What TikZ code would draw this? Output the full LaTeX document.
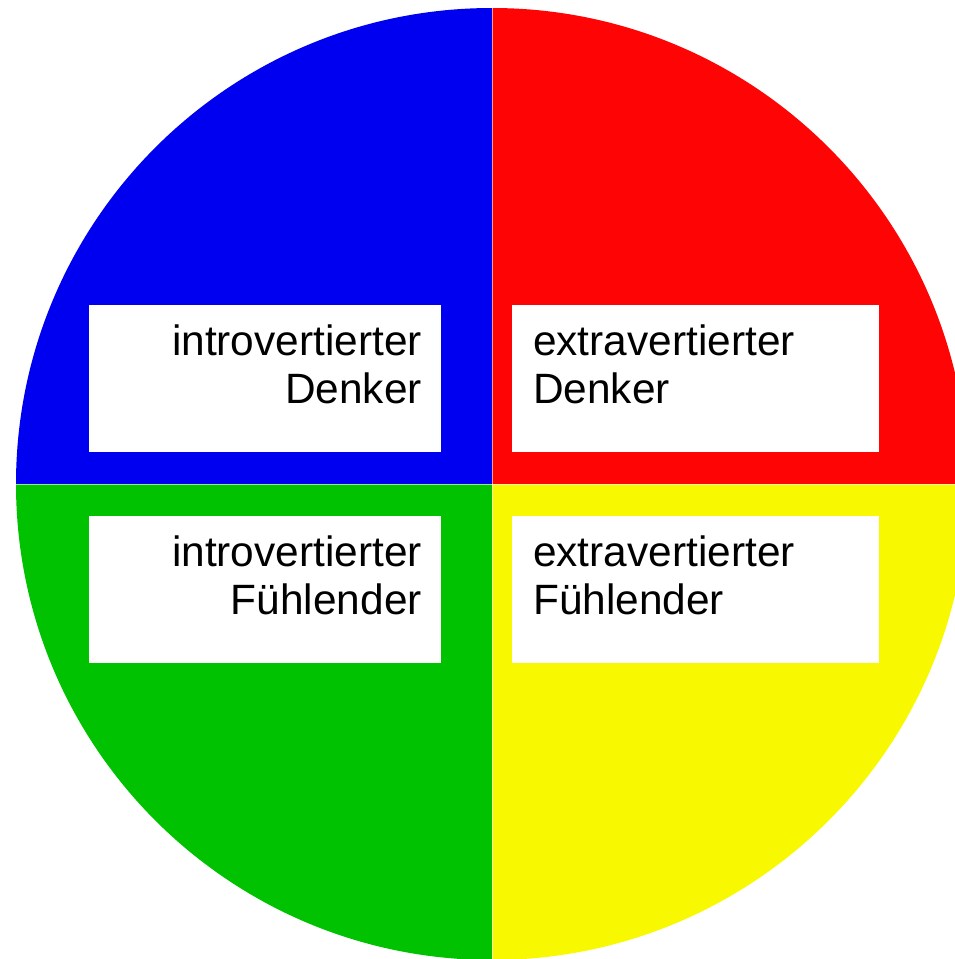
\documentclass[tikz,border=0pt]{standalone}
\usepackage{fontspec}
\setmainfont{Liberation Sans}
\definecolor{qblue}{RGB}{0,0,240}
\definecolor{qred}{RGB}{255,4,4}
\definecolor{qgreen}{RGB}{0,194,0}
\definecolor{qyellow}{RGB}{248,248,0}
\tikzset{
  labelbox/.style={fill=white, draw=none},
  lbl/.style={inner sep=0pt, font=\fontsize{42.4}{48}\selectfont},
  divider/.style={draw=white, line width=1pt, opacity=0.6}
}
\begin{document}
\begin{tikzpicture}[x=1pt,y=-1pt]
\useasboundingbox (0,0) rectangle (955,959);
\clip (0,0) rectangle (955,959);
\coordinate (c) at (492,484);
\fill[qblue]   (c) -- (16,484) arc[start angle=180, end angle=270, radius=476] -- cycle;
\fill[qred]    (c) -- (492,8) arc[start angle=-90, end angle=0, radius=476] -- cycle;
\fill[qgreen]  (c) -- (16,484) arc[start angle=180, end angle=90, radius=476] -- cycle;
\fill[qyellow] (c) -- (968,484) arc[start angle=0, end angle=90, radius=476] -- cycle;
\draw[divider] (492,8) -- (492,960);
\draw[divider] (16,484) -- (968,484);
\node[labelbox, minimum width=352pt, minimum height=147pt, anchor=north west] (b1) at (89,305) {};
\node[labelbox, minimum width=367pt, minimum height=147pt, anchor=north west] (b2) at (512,305) {};
\node[labelbox, minimum width=352pt, minimum height=147pt, anchor=north west] (b3) at (89,516) {};
\node[labelbox, minimum width=367pt, minimum height=147pt, anchor=north west] (b4) at (512,516) {};
\node[lbl, align=right, anchor=base east] (t1) at (422,403) {introvertierter\\Denker};
\node[lbl, align=left, anchor=base west] (t2) at (533,403) {extravertierter\\Denker};
\node[lbl, align=right, anchor=base east] (t3) at (422,614) {introvertierter\\Fühlender};
\node[lbl, align=left, anchor=base west] (t4) at (533,614) {extravertierter\\Fühlender};
\end{tikzpicture}
\end{document}
